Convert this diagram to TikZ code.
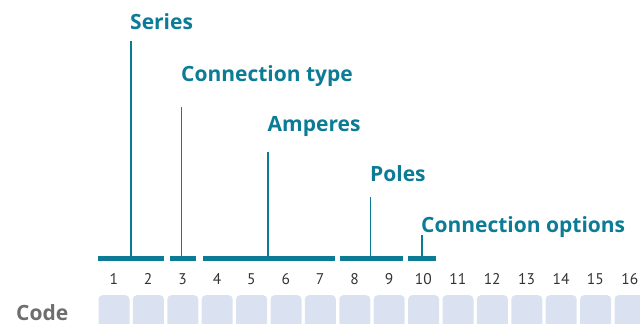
\documentclass[tikz,border=0pt]{standalone}
\usepackage{fontspec}
\setmainfont{PT Sans}
\newfontfamily\tagfont{Open Sans}
\definecolor{codeteal}{HTML}{0C7C96}
\definecolor{cellblue}{HTML}{DAE2F1}
\definecolor{numgray}{HTML}{333333}
\definecolor{codegray}{HTML}{6E6E6E}
\begin{document}
\begin{tikzpicture}[x=1pt,y=-1pt,
                        cell/.style={
                        fill=cellblue,
                        rounded corners=4pt,
                        minimum width=31pt,
                        minimum height=34pt,
                        inner sep=0pt},
                        num/.style={
                        text=numgray,
                        anchor=base,
                        font=\fontsize{15.5}{18}\selectfont},
                        bar/.style={
                        fill=codeteal,
                        minimum height=5pt,
                        inner sep=0pt},
                        tag/.style={
                        text=codeteal,
                        anchor=base west,
                        inner sep=0pt,
                        font=\tagfont\fontsize{21}{24}\selectfont\bfseries},
                        stem/.style={
                        draw=codeteal,
                        line width=1.5pt}]
                        \useasboundingbox (0,0) rectangle (640,324);
                        \clip (0,0) rectangle (640,324);
                        % code cells and their positions
                        \foreach \i in {1,...,16} {
                            \node [cell, anchor=north west] (c\i) at ({98.3+(\i-1)*34.4},295) {};
                            \node [num] (n\i) at ({113.8+(\i-1)*34.4},284) {\i};
                        }
                        \node [anchor=base west, inner sep=0pt, text=codegray, text depth=0pt,
                               font=\tagfont\fontsize{21}{24}\selectfont\bfseries] (code) at (16,320.3) {Code};
                        % groups
                        \node [bar, minimum width=65.2pt] (bar1) at (130.9,258) {};
                        \node [bar, minimum width=26pt] (bar2) at (183,258) {};
                        \node [bar, minimum width=132pt] (bar3) at (269,258) {};
                        \node [bar, minimum width=62.7pt] (bar4) at (371.3,258) {};
                        \node [bar, minimum width=27.7pt] (bar5) at (422.1,258) {};
                        % labels
                        \node [tag] (series) at (130,29.5) {Series};
                        \node [tag] (ctype) at (181,81) {Connection type};
                        \node [tag] (amps) at (267.5,131) {Amperes};
                        \node [tag] (poles) at (370,181.5) {Poles};
                        \node [tag] (copts) at (421,232) {Connection options};
                        \coordinate (t1) at (131,41);
                        \coordinate (t2) at (181.7,107);
                        \coordinate (t3) at (268,152);
                        \coordinate (t4) at (370.7,197);
                        \coordinate (t5) at (422,235);
                        \draw [stem] (t1) -- (t1 |- bar1.center);
                        \draw [stem] (t2) -- (t2 |- bar2.center);
                        \draw [stem] (t3) -- (t3 |- bar3.center);
                        \draw [stem] (t4) -- (t4 |- bar4.center);
                        \draw [stem] (t5) -- (t5 |- bar5.center);
                \end{tikzpicture}
\end{document}
